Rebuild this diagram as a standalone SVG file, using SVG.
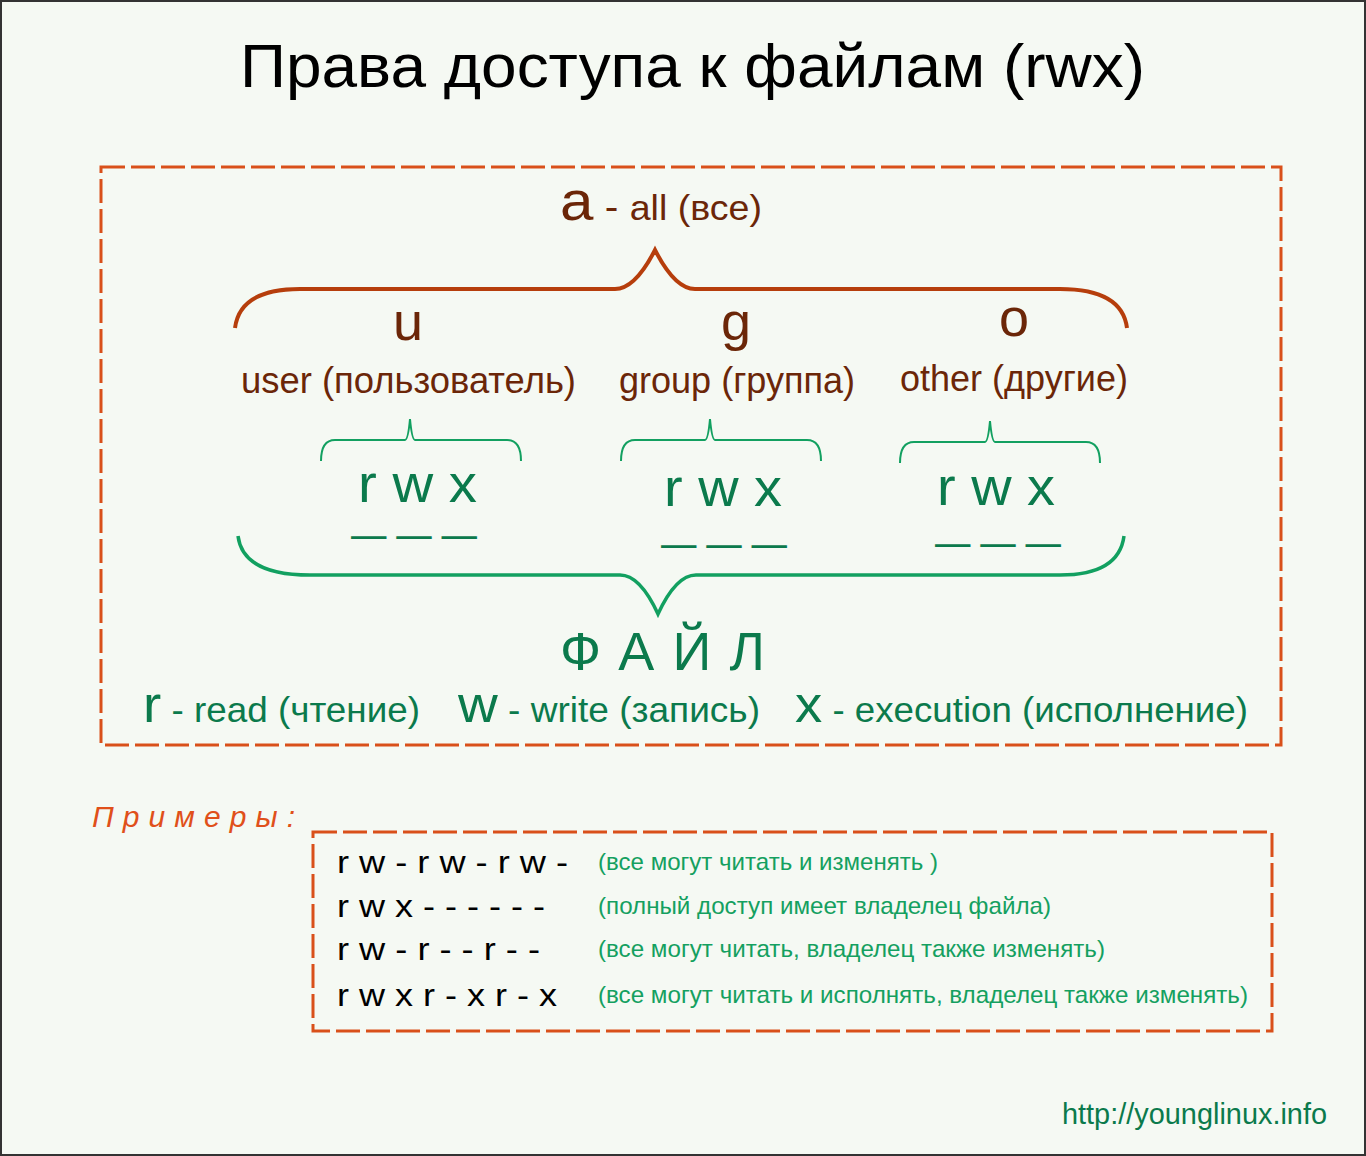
<svg xmlns="http://www.w3.org/2000/svg" width="1366" height="1156" viewBox="0 0 1366 1156">
<style>
text{font-family:"Liberation Sans",Arial,sans-serif}
.br{fill:#6b2608}
.gr{fill:#0b7a4c}
.lg{fill:#14a060}
.box{fill:none;stroke:#d9501a;stroke-width:3;stroke-dasharray:24,6}
.bb{fill:none;stroke:#b63e0c;stroke-width:4}
.gb{fill:none;stroke:#12a060;stroke-width:3.5}
.sb{fill:none;stroke:#12a060;stroke-width:2}
</style>
<rect x="1" y="1" width="1364" height="1154" fill="#f5f9f3" stroke="#333" stroke-width="2"/>
<text x="240" y="87" font-size="62" textLength="905" lengthAdjust="spacingAndGlyphs" fill="#000">Права доступа к файлам (rwx)</text>
<rect class="box" x="101" y="167" width="1180" height="578"/>
<g id="all"><text x="560" y="220" class="br" textLength="202" lengthAdjust="spacingAndGlyphs"><tspan font-size="56">a</tspan><tspan font-size="38"> - </tspan><tspan font-size="35">all (все)</tspan></text></g>
<g id="connectors">
<path class="bb" d="M235,328 Q240,289 300,289 L615,289 Q635,289 655,250 Q675,289 695,289 L1060,289 Q1122,289 1127,328"/>
<path class="gb" d="M238,536 Q243,575 310,575 L620,575 Q640,575 658,614 Q676,575 696,575 L1060,575 Q1119,575 1124,536"/>
<path class="sb" d="M321,461 Q321,440 335,440 L405,440 Q408,440 410,419 Q412,440 415,440 L507,440 Q521,440 521,461"/>
<path class="sb" d="M621,461 Q621,440 635,440 L705,440 Q708,440 710,419 Q712,440 715,440 L807,440 Q821,440 821,461"/>
<path class="sb" d="M900,463 Q900,442 914,442 L985,442 Q988,442 990,421 Q992,442 995,442 L1086,442 Q1100,442 1100,463"/>
</g>
<g id="u"><text x="408" y="340" font-size="54" text-anchor="middle" class="br">u</text>
<text x="241" y="393" font-size="36" textLength="335" lengthAdjust="spacingAndGlyphs" class="br">user (пользователь)</text>
<text x="358" y="502" font-size="54" textLength="119" lengthAdjust="spacingAndGlyphs" class="gr">r w x</text>
<text x="351" y="548" font-size="40" textLength="126" lengthAdjust="spacingAndGlyphs" class="gr">— — —</text></g>
<g id="g"><text x="736" y="340" font-size="54" text-anchor="middle" class="br">g</text>
<text x="619" y="393" font-size="36" textLength="236" lengthAdjust="spacingAndGlyphs" class="br">group (группа)</text>
<text x="664" y="506" font-size="54" textLength="118" lengthAdjust="spacingAndGlyphs" class="gr">r w x</text>
<text x="661" y="557" font-size="40" textLength="126" lengthAdjust="spacingAndGlyphs" class="gr">— — —</text></g>
<g id="o"><text x="1014" y="336" font-size="54" text-anchor="middle" class="br">o</text>
<text x="900" y="391" font-size="36" textLength="228" lengthAdjust="spacingAndGlyphs" class="br">other (другие)</text>
<text x="937" y="505" font-size="54" textLength="118" lengthAdjust="spacingAndGlyphs" class="gr">r w x</text>
<text x="935" y="556" font-size="40" textLength="126" lengthAdjust="spacingAndGlyphs" class="gr">— — —</text></g>
<g id="file"><text x="560" y="670" font-size="54" textLength="205" lengthAdjust="spacing" class="gr">ФАЙЛ</text></g>
<g id="legend"><text x="143" y="722" class="gr" textLength="277" lengthAdjust="spacingAndGlyphs"><tspan font-size="52">r</tspan><tspan font-size="35"> - read (чтение)</tspan></text>
<text x="458" y="722" class="gr" textLength="302" lengthAdjust="spacingAndGlyphs"><tspan font-size="52">w</tspan><tspan font-size="35"> - write (запись)</tspan></text>
<text x="795" y="722" class="gr" textLength="453" lengthAdjust="spacingAndGlyphs"><tspan font-size="52">x</tspan><tspan font-size="35"> - execution (исполнение)</tspan></text></g>
<text x="92" y="827" font-size="30" font-style="italic" fill="#e0501a" textLength="203" lengthAdjust="spacing">Примеры:</text>
<rect class="box" x="313" y="832" width="959" height="199"/>
<g id="examples" font-size="31" fill="#000">
<text x="337" y="873" textLength="231" lengthAdjust="spacingAndGlyphs">r w - r w - r w -</text>
<text x="337" y="917" textLength="208" lengthAdjust="spacingAndGlyphs">r w x - - - - - -</text>
<text x="337" y="960" textLength="203" lengthAdjust="spacingAndGlyphs">r w - r - - r - -</text>
<text x="337" y="1006" textLength="220" lengthAdjust="spacingAndGlyphs">r w x r - x r - x</text>
</g>
<g id="notes" font-size="24" class="lg">
<text x="598" y="870" textLength="340" lengthAdjust="spacingAndGlyphs">(все могут читать и изменять )</text>
<text x="598" y="914" textLength="453" lengthAdjust="spacingAndGlyphs">(полный доступ имеет владелец файла)</text>
<text x="598" y="957" textLength="507" lengthAdjust="spacingAndGlyphs">(все могут читать, владелец также изменять)</text>
<text x="598" y="1003" textLength="650" lengthAdjust="spacingAndGlyphs">(все могут читать и исполнять, владелец также изменять)</text>
</g>
<text x="1062" y="1124" font-size="29" textLength="265" lengthAdjust="spacingAndGlyphs" class="gr">http://younglinux.info</text>
</svg>
